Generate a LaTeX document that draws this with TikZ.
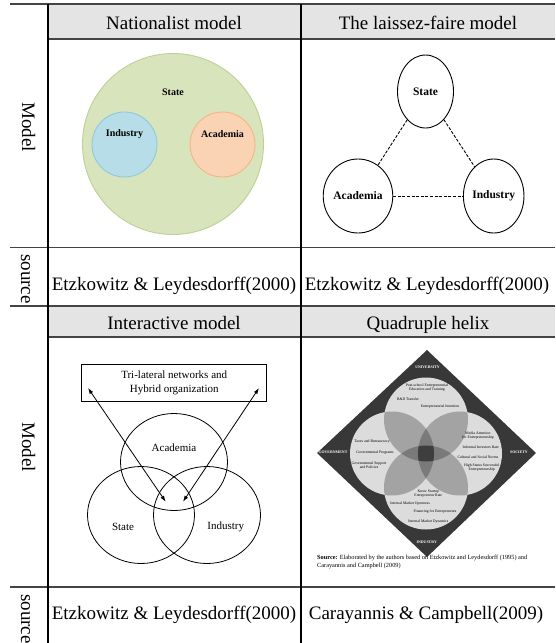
\documentclass[tikz,border=0pt]{standalone}
\usepackage{fontspec}
\setmainfont{Liberation Serif}
\usetikzlibrary{arrows.meta,positioning,shapes.geometric}
\definecolor{headgray}{HTML}{E4E4E4}
\definecolor{rulegray}{HTML}{444444}
\definecolor{stategreen}{HTML}{D8E4BC}
\definecolor{stateedge}{HTML}{BDD197}
\definecolor{indblue}{HTML}{B7DDE8}
\definecolor{indedge}{HTML}{8FCADC}
\definecolor{acapeach}{HTML}{FAD3B5}
\definecolor{acaedge}{HTML}{F6B486}
\definecolor{helixdark}{HTML}{383838}
\definecolor{helixlite}{HTML}{DCDCDC}
\definecolor{helixmid}{HTML}{A3A3A3}
\definecolor{helixdeep}{HTML}{7A7A7A}
\definecolor{helixcore}{HTML}{3E3E3E}

\begin{document}
\begin{tikzpicture}[x=1pt,y=-1pt,>={Latex[length=6pt,width=4pt]},
    cell/.style={font=\fontsize{19}{21}\selectfont,inner sep=0pt,anchor=base},
    side/.style={cell,rotate=-90},
    bold/.style={font=\fontsize{10}{12}\selectfont\bfseries,inner sep=0pt},
    plain/.style={font=\fontsize{11}{14}\selectfont,inner sep=0pt},
    oval/.style={ellipse,draw,line width=0.9,inner sep=0pt},
    tiny/.style={font=\fontsize{3.8}{4}\selectfont,inner sep=0pt,align=center},
    corner/.style={font=\fontsize{3.9}{4}\selectfont\bfseries,text=white,inner sep=0pt}]
  \useasboundingbox (0,0) rectangle (555,643);
  % table frame
  \fill[headgray] (48,4) rectangle (555,39);
  \fill[headgray] (48,306) rectangle (555,337);
  \draw[rulegray,line width=1.6] (10,4) -- (555,4);
  \draw[rulegray,line width=1.2] (48,39) -- (555,39) (48,337) -- (555,337);
  \draw[rulegray,line width=1.2] (10,247.5) -- (555,247.5) (10,306) -- (555,306) (10,587) -- (555,587);
  \draw[line width=1.2] (48,4) -- (48,643) (301,4) -- (301,643);
  \node[cell] (headNat) at (174,29.5) {Nationalist model};
  \node[cell] (headLf) at (428,29.5) {The laissez-faire model};
  \node[cell] (headIa) at (174,329.3) {Interactive model};
  \node[cell] (headQh) at (428,329.3) {Quadruple helix};
  \node[side] (sideModelA) at (22,127) {Model};
  \node[side] (sideSrcA) at (21,279) {source};
  \node[side] (sideModelB) at (22,447) {Model};
  \node[side] (sideSrcB) at (21,619) {source};
  \node[cell] (srcNat) at (174,290) {Etzkowitz \& Leydesdorff(2000)};
  \node[cell] (srcLf) at (427,290) {Etzkowitz \& Leydesdorff(2000)};
  \node[cell] (srcIa) at (174,619) {Etzkowitz \& Leydesdorff(2000)};
  \node[cell] (srcQh) at (426,619) {Carayannis \& Campbell(2009)};

  % nationalist model
  \node[circle,draw=stateedge,fill=stategreen,line width=0.9,minimum size=181,inner sep=0pt] (natState) at (173,144) {};
  \node[circle,draw=indedge,fill=indblue,line width=0.9,minimum size=65,inner sep=0pt] (natInd) at (124.5,144.5) {};
  \node[circle,draw=acaedge,fill=acapeach,line width=0.9,minimum size=65,inner sep=0pt] (natAca) at (222.5,144.5) {};
  \node[bold] (natStateTxt) at (173,92) {State};
  \node[bold] (natIndTxt) at (124.5,134) {Industry};
  \node[bold] (natAcaTxt) at (222.5,134) {Academia};

  % laissez-faire model
  \node[oval,minimum width=56,minimum height=73,font=\fontsize{11.5}{13}\selectfont\bfseries] (lfState) at (425.5,91.5) {State};
  \node[oval,minimum width=56,minimum height=74,font=\fontsize{11.5}{13}\selectfont\bfseries] (lfAca) at (358,196) {Academia};
  \node[oval,minimum width=56,minimum height=74,font=\fontsize{11.5}{13}\selectfont\bfseries] (lfInd) at (493.7,196) {Industry};
  \draw[dash pattern=on 3pt off 1.6pt,line width=0.9] (lfState) -- (lfAca);
  \draw[dash pattern=on 3pt off 1.6pt,line width=0.9] (lfState) -- (lfInd);
  \draw[dash pattern=on 3pt off 1.6pt,line width=0.9] (lfAca) -- (lfInd);

  % interactive model
  \node[draw,line width=0.8,minimum width=185,minimum height=37,inner sep=0pt,align=center,plain] (iaBox) at (174.2,382.5) {Tri-lateral networks and\\Hybrid organization};
  \node[oval,line width=0.8,minimum width=107,minimum height=97] (iaAca) at (174,462) {};
  \node[oval,line width=0.8,minimum width=107,minimum height=97] (iaState) at (141,515) {};
  \node[oval,line width=0.8,minimum width=107,minimum height=97] (iaInd) at (207,515) {};
  \node[plain] (iaAcaTxt) at (174,448) {Academia};
  \node[plain] (iaStateTxt) at (123,527) {State};
  \node[plain] (iaIndTxt) at (225.7,527) {Industry};
  \coordinate (iaBoxL) at (88,388);
  \coordinate (iaBoxR) at (259,388);
  \coordinate (iaHubL) at (165.7,501.7);
  \coordinate (iaHubR) at (183,501.7);
  \draw[<->,line width=0.8] (iaBoxL) -- (iaHubL);
  \draw[<->,line width=0.8] (iaBoxR) -- (iaHubR);

  % quadruple helix
  \fill[helixdark] (427,350) -- (536,453) -- (427,557) -- (317,453) -- cycle;
  \coordinate (hxU) at (426,419.5);
  \coordinate (hxI) at (426,487.5);
  \coordinate (hxG) at (392,453.5);
  \coordinate (hxS) at (460,453.5);
  \foreach \c in {hxU,hxI,hxG,hxS}
    \fill[helixlite] (\c) circle[radius=42];
  \foreach \a/\b in {hxU/hxG,hxU/hxS,hxI/hxG,hxI/hxS,hxU/hxI,hxG/hxS} {
    \begin{scope}
      \clip (\a) circle[radius=42];
      \fill[helixmid] (\b) circle[radius=42];
    \end{scope}
  }
  \foreach \a/\b/\d in {hxU/hxG/hxS,hxU/hxG/hxI,hxU/hxS/hxI,hxG/hxS/hxI} {
    \begin{scope}
      \clip (\a) circle[radius=42];
      \clip (\b) circle[radius=42];
      \fill[helixdeep] (\d) circle[radius=42];
    \end{scope}
  }
  \begin{scope}
    \clip (hxU) circle[radius=42];
    \clip (hxG) circle[radius=42];
    \clip (hxS) circle[radius=42];
    \fill[helixcore] (hxI) circle[radius=42];
  \end{scope}
  \foreach \p/\t [count=\i] in {(427,387.5)/{Post-school Entrepreneurial\\Education and Training},
      (408,399)/{R\&D Transfer},(440,407)/{Entrepreneurial Intention},
      (372,442)/{Taxes and Bureaucracy},(375,452.7)/{Governmental Programs},
      (369,465.5)/{Governmental Support\\and Policies},
      (478,436)/{Media Attention\\for Entrepreneurship},(480.7,446.7)/{Informal Investors Rate},
      (478,457.3)/{Cultural and Social Norms},(481.7,467.3)/{High Status Successful\\Entrepreneurship},
      (428.3,493.3)/{Know Startup\\Entrepreneur Rate},(410,503.3)/{Internal Market Openness},
      (435,511.7)/{Financing for Entrepreneurs},(428.3,521.7)/{Internal Market Dynamics}}
    \node[tiny] (qhTxt\i) at \p {\t};
  \node[corner] (qhUni) at (427.5,367.3) {UNIVERSITY};
  \node[corner] (qhGov) at (333,452.7) {GOVERNMENT};
  \node[corner] (qhSoc) at (519,452.7) {SOCIETY};
  \node[corner] (qhInd) at (426.7,542.3) {INDUSTRY};
  \node[anchor=base west,align=left,inner sep=0pt,font=\fontsize{6.3}{8.3}\selectfont] (qhSource) at (317,567.5)
    {\textbf{Source:} Elaborated by the authors based on Etzkowitz and Leydesdorff (1995) and\\Carayannis and Campbell (2009)};
\end{tikzpicture}
\end{document}
